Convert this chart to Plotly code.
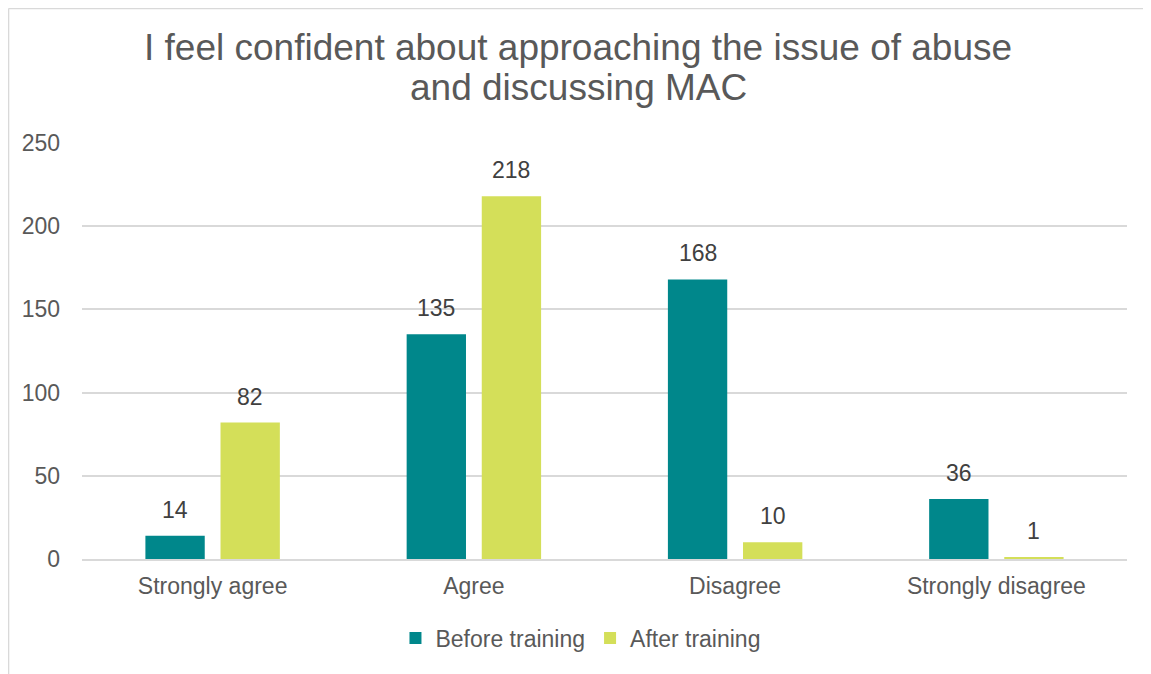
import plotly.graph_objects as go

categories = ['Strongly agree', 'Agree', 'Disagree', 'Strongly disagree']
before_training = [14, 135, 168, 36]
after_training = [82, 218, 10, 1]
y_ticks = [0, 50, 100, 150, 200, 250]
title_lines = ['I feel confident about approaching the issue of abuse', 'and discussing MAC']

TEXT = '#595959'
FONT = 'Liberation Sans, Arial, sans-serif'

# the page body adds an 8px margin, so the figure is 8px smaller than the window
W, H = 1143, 666
L, R, T, B = 74, 24, 135, 115
BARGAP, GROUPGAP = 0.425, 0.21

fig = go.Figure()
fig.add_trace(go.Bar(x=categories, y=before_training, name='Before training',
                     marker=dict(color='#00878B', line=dict(width=0))))
fig.add_trace(go.Bar(x=categories, y=after_training, name='After training',
                     marker=dict(color='#D4DF59', line=dict(width=0))))

# value labels above each bar, shifted to the centre of its bar within the group
slot = (W - L - R) / len(categories) * (1 - BARGAP) / 2
for values, shift in [(before_training, -slot / 2), (after_training, slot / 2)]:
    for cat, v in zip(categories, values):
        fig.add_annotation(x=cat, y=v, text=str(v), showarrow=False, xshift=shift, yshift=11,
                           yanchor='bottom', font=dict(size=23, color='#404040'))

# two-line title, set as separate lines for tighter spacing
for line, ypos in zip(title_lines, [1.2286, 1.1325]):
    fig.add_annotation(text=line, xref='paper', yref='paper', x=0.475, y=ypos,
                       xanchor='center', yanchor='middle', showarrow=False,
                       font=dict(size=37, color=TEXT))

fig.update_layout(
    width=W, height=H,
    margin=dict(l=L, r=R, t=T, b=B, autoexpand=False),
    paper_bgcolor='white', plot_bgcolor='white',
    font=dict(family=FONT, color=TEXT, size=23),
    barmode='group', bargap=BARGAP, bargroupgap=GROUPGAP,
    legend=dict(orientation='h', x=0.477, xanchor='center', y=-0.19, yanchor='middle',
                font=dict(size=23, color=TEXT), itemwidth=30, traceorder='normal'),
    showlegend=True,
)
fig.update_yaxes(range=[0, 250], tickvals=y_ticks, showgrid=True, gridcolor='#D9D9D9',
                 gridwidth=1.5, zeroline=False, showline=False, ticks='',
                 ticklabelstandoff=21, tickfont=dict(size=23, color=TEXT))
fig.update_xaxes(showline=True, linecolor='#D9D9D9', linewidth=1.5, ticks='',
                 tickfont=dict(size=23, color=TEXT), ticklabelstandoff=6)

# chart frame (left and top edges visible)
fig.add_shape(type='line', xref='paper', yref='paper', x0=-0.0703, x1=-0.0703, y0=-0.3, y1=1.3233,
              line=dict(color='#D9D9D9', width=1.5))
fig.add_shape(type='line', xref='paper', yref='paper', x0=-0.0703, x1=1.03, y0=1.3233, y1=1.3233,
              line=dict(color='#D9D9D9', width=1.5))

fig.write_html('out.html')
